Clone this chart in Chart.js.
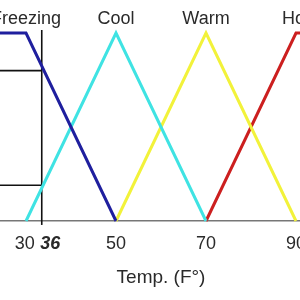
<!DOCTYPE html>
<html>
<head>
<meta charset="utf-8">
<script src="https://cdn.jsdelivr.net/npm/chart.js@4"></script>
<style>
  html, body { margin: 0; padding: 0; background: #fff; overflow: hidden; width: 300px; height: 300px; }
  #wrap { position: absolute; left: -19px; top: 0; width: 360px; height: 300px; }
</style>
</head>
<body>
<div id="wrap"><canvas id="fuzzyChart" width="360" height="300"></canvas></div>
<script>
// membership sets (temperature in F, degree 0..1)
const setNames = ["Freezing", "Cool", "Warm", "Hot"];
const setPeaks = [30, 50, 70, 90];
const setColors = ["#1f1f9e", "#3fe3e3", "#f2f23a", "#cc1f1f"];

const freezing = [{x: 20, y: 1}, {x: 30, y: 1}, {x: 50, y: 0}];
const cool = [{x: 30, y: 0}, {x: 50, y: 1}, {x: 70, y: 0}];
const warm = [{x: 50, y: 0}, {x: 70, y: 1}, {x: 90, y: 0}];
const hot = [{x: 70, y: 0}, {x: 90, y: 1}, {x: 100, y: 1}];

// crisp input and its membership degrees
const inputX = 33.5;
const inputLevels = [0.8, 0.19];

const xTickValues = [29.7, 35.4, 50, 70, 90];
const xTickLabels = ["30", "36", "50", "70", "90"];

const fontFamily = "'Liberation Sans', Arial, sans-serif";

let datasets = [freezing, cool, warm, hot].map((pts, i) => ({
  label: setNames[i],
  data: pts,
  borderColor: setColors[i],
  borderWidth: 3,
  pointRadius: 0,
  tension: 0,
  clip: false
}));

// vertical input line
datasets.push({
  label: "input",
  data: [{x: inputX, y: -0.021}, {x: inputX, y: 1.016}],
  borderColor: "#111",
  borderWidth: 1.6,
  pointRadius: 0,
  clip: false
});
// horizontal degree lines
inputLevels.forEach(lv => {
  datasets.push({
    label: "level",
    data: [{x: 20, y: lv}, {x: inputX, y: lv}],
    borderColor: "#111",
    borderWidth: 1.6,
    pointRadius: 0,
    clip: false
  });
});

new Chart(document.getElementById("fuzzyChart").getContext("2d"), {
  type: "line",
  data: { datasets: datasets },
  options: {
    responsive: false,
    devicePixelRatio: 1,
    animation: false,
    layout: { padding: 0 },
    plugins: { legend: { display: false }, tooltip: { enabled: false } },
    scales: {
      x: {
        type: "linear",
        position: "bottom",
        min: 20,
        max: 100,
        afterBuildTicks: s => { s.ticks = xTickValues.map(v => ({value: v})); },
        afterFit: s => { s.height = 79; },
        grid: { display: false, drawTicks: false },
        border: { display: true, color: "#777", width: 1.5 },
        ticks: {
          padding: 12,
          color: "#2a2a2a",
          maxRotation: 0,
          autoSkip: false,
          font: ctx => ctx.index === 1
            ? {family: fontFamily, size: 18, style: "italic", weight: "bold"}
            : {family: fontFamily, size: 18},
          callback: (v, i) => xTickLabels[i]
        },
        title: {
          display: true,
          text: "Temp. (F°)",
          color: "#2a2a2a",
          font: {family: fontFamily, size: 19},
          padding: {top: 0, bottom: 11}
        }
      },
      x2: {
        type: "linear",
        position: "top",
        min: 20,
        max: 100,
        afterBuildTicks: s => { s.ticks = setPeaks.map(v => ({value: v})); },
        afterFit: s => { s.height = 30; },
        grid: { display: false, drawTicks: false },
        border: { display: false },
        ticks: {
          padding: 0,
          color: "#2a2a2a",
          maxRotation: 0,
          autoSkip: false,
          font: {family: fontFamily, size: 18},
          callback: (v, i) => setNames[i]
        }
      },
      y: {
        display: false,
        min: 0,
        max: 1.016
      }
    }
  }
});
</script>
</body>
</html>
